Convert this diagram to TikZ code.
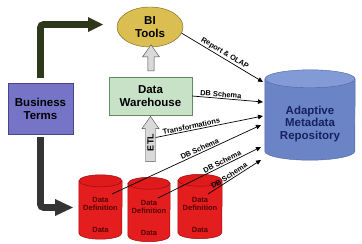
\documentclass[tikz,border=0pt]{standalone}
\usepackage{fontspec}
\setmainfont{Liberation Sans}
\usetikzlibrary{shapes.geometric,shapes.arrows,arrows.meta,positioning}

\definecolor{dwgreen}{RGB}{200,226,200}
\definecolor{dwedge}{RGB}{100,140,100}
\definecolor{btblue}{RGB}{118,116,198}
\definecolor{btedge}{RGB}{70,70,140}
\definecolor{bigold}{RGB}{218,190,82}
\definecolor{biedge}{RGB}{120,95,25}
\definecolor{repoblue}{RGB}{106,132,198}
\definecolor{repotop}{RGB}{130,154,214}
\definecolor{repoedge}{RGB}{80,100,160}
\definecolor{repotext}{RGB}{22,34,96}
\definecolor{dbred}{RGB}{228,30,30}
\definecolor{dbtop}{RGB}{222,26,26}
\definecolor{dbedge}{RGB}{160,10,10}
\definecolor{dbtext}{RGB}{90,0,0}
\definecolor{olive}{RGB}{48,56,28}
\definecolor{darkgray}{RGB}{52,52,52}

\begin{document}
\begin{tikzpicture}[x=1pt, y=-1pt,
  box/.style={rectangle, draw, align=center, font=\bfseries\fontsize{11.5}{13}\selectfont, inner sep=2pt},
  dbside/.style={draw=dbedge, fill=dbred, line width=0.5pt},
  dbend/.style={draw=dbedge, fill=dbtop, line width=0.5pt},
  dbtext/.style={align=center, font=\bfseries\fontsize{7.5}{8}\selectfont, text=dbtext, inner sep=1pt},
  grayarrow/.style={single arrow, rotate=90, draw=gray!60!black, fill=gray!30, single arrow head extend=3pt, single arrow head indent=0pt, single arrow tip angle=70, inner sep=1.5pt, minimum width=17pt},
  bigarrow/.style={line width=6.6pt, rounded corners=3pt},
  flow/.style={-{Triangle[length=5pt, width=4.5pt]}, line width=0.7pt},
  tag/.style={font=\bfseries\fontsize{7.4}{8}\selectfont, sloped, above, inner sep=1pt},
]
\useasboundingbox (0,0) rectangle (362,244);

% === SOURCES ===
\node[box, ellipse, fill=bigold, draw=biedge, minimum width=66pt, minimum height=40pt, inner sep=0pt] (bi) at (150,27) {BI\\Tools};
\node[box, fill=dwgreen, draw=dwedge, minimum width=83pt, minimum height=38pt] (dw) at (150.5,96) {Data\\Warehouse};
\node[box, fill=btblue, draw=btedge, minimum width=65pt, minimum height=51pt] (bt) at (40.5,108.5) {Business\\Terms};

\node[grayarrow, minimum height=26pt] (up) at (151,60) {};
\node[grayarrow, minimum height=45pt, inner sep=1pt, font=\bfseries\fontsize{9}{9}\selectfont] (etl) at (150.5,142.5) {ETL};

% === DATABASES ===
\foreach \i/\x/\y/\w in {1/100.5/207/43, 2/149/209.5/42, 3/200/206.5/44} {
  \node[minimum width=\w pt, minimum height=64pt, inner sep=0pt] (db\i) at (\x,\y) {};
  \pgfmathsetmacro\r{\w/2}
  \filldraw[dbside] ([yshift=-6pt]db\i.north west) -- ([yshift=6pt]db\i.south west)
    arc[start angle=180, end angle=360, x radius=\r pt, y radius=6pt] -- ([yshift=-6pt]db\i.north east) -- cycle;
  \filldraw[dbend] ([yshift=-6pt]db\i.north) ellipse[x radius=\r pt, y radius=6pt];
  \node[dbtext] (dd\i) at ([yshift=3pt]db\i.center) {Data\\Definition};
  \node[dbtext] (d\i) at ([yshift=-23pt]db\i.center) {Data};
}

\node[minimum width=90pt, minimum height=90pt, inner sep=0pt] (repo) at (310,115) {};
\filldraw[draw=repoedge, fill=repoblue] ([yshift=-9pt]repo.north west) -- ([yshift=9pt]repo.south west)
  arc[start angle=180, end angle=360, x radius=45pt, y radius=9pt] -- ([yshift=-9pt]repo.north east) -- cycle;
\filldraw[draw=repoedge, fill=repotop] ([yshift=-9pt]repo.north) ellipse[x radius=45pt, y radius=9pt];
\node[align=center, font=\bfseries\fontsize{11.5}{12.5}\selectfont, text=repotext] (reponame) at ([yshift=-9pt]repo.center) {Adaptive\\Metadata\\Repository};

% === BIG ARROWS ===
\coordinate (bitip) at (103,24.5);
\coordinate (dbtip) at (73,207.5);
\draw[bigarrow, olive] ([yshift=5pt]bt.north) |- ([xshift=-14pt]bitip);
\fill[olive] (bitip) -- ++(-15,-7.5) -- ++(0,15) -- cycle;
\draw[bigarrow, darkgray] ([yshift=-3pt]bt.south) |- ([xshift=-17pt]dbtip);
\fill[darkgray] (dbtip) -- ++(-18,-8.5) -- ++(0,17) -- cycle;

% === METADATA FLOWS ===
\coordinate (in1) at (263,82);
\coordinate (in2) at (263,102);
\coordinate (in3) at (263,116);
\coordinate (in4) at (261,125);
\coordinate (in5) at (261,147);
\coordinate (in6) at (261,160);
\coordinate (s1) at (112,194);
\coordinate (s2) at (158,198);
\coordinate (s3) at (208,194);

\draw[flow] (bi.-11) -- node[tag, pos=0.5] {Report \& OLAP} (in1);
\draw[flow] (dw.east) -- node[tag, pos=0.4] {DB Schema} (in2);
\draw[flow] ([yshift=5pt]etl.south) -- node[tag, pos=0.34] {Transformations} (in3);
\draw[flow] (s1) -- node[tag, pos=0.6] {DB Schema} (in4);
\draw[flow] (s2) -- node[tag, pos=0.64] {DB Schema} (in5);
\draw[flow] (s3) -- node[tag, pos=0.44] {DB Schema} (in6);
\end{tikzpicture}
\end{document}
